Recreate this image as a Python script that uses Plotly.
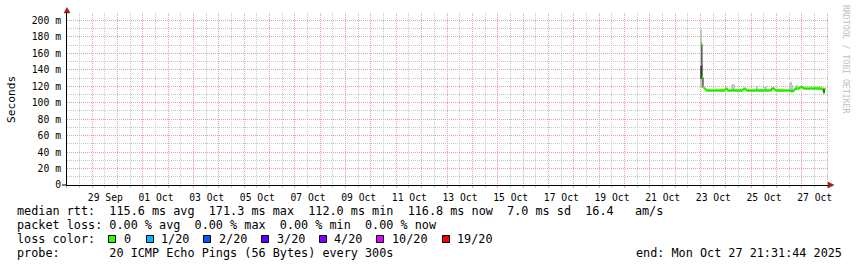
import plotly.graph_objects as go
import pandas as pd

# ---------------- data ----------------
sample_start = "2025-10-23 00:30"          # first consolidated (1 h) median sample
median_rtt_ms = [
    171.3, 131.0, 119.0, 117.6, 116.2, 115.3, 114.8, 114.9, 115.0, 114.9,
    114.8, 115.0, 114.9, 114.9, 115.1, 114.8, 114.9, 115.0, 114.9, 114.8,
    114.9, 115.0, 115.2, 116.8, 117.0, 115.3, 114.9, 114.8, 114.9, 115.0,
    115.1, 114.9, 114.8, 114.9, 115.0, 114.7, 114.9, 114.9, 115.0, 115.1,
    116.6, 116.9, 116.5, 115.2, 114.9, 114.8, 114.9, 115.0, 114.9, 114.8,
    114.9, 115.0, 114.9, 115.1, 114.9, 114.8, 114.9, 115.0, 114.9, 114.9,
    115.0, 115.1, 114.9, 114.8, 114.9, 115.0, 115.3, 117.2, 117.4, 116.9,
    115.4, 114.9, 114.8, 114.9, 115.0, 114.9, 114.8, 114.9, 115.0, 114.9,
    114.9, 115.0, 114.8, 114.9, 114.6, 114.2, 114.4, 114.3, 115.6, 117.0,
    117.3, 117.1, 117.5, 118.0, 118.8, 119.0, 118.6, 117.6, 117.3, 117.2,
    117.4, 117.3, 117.0, 117.2, 117.5, 117.3, 117.1, 117.6, 117.4, 117.2,
    117.3, 117.0, 117.2, 117.4, 117.1, 116.9, 112.0, 116.8,
]

# smoke (ping spread) where it shows beside the median line
smoke_light_times = ["2025-10-23 00:30", "2025-10-23 01:30", "2025-10-24 05:30",
                     "2025-10-24 06:30", "2025-10-24 07:30", "2025-10-25 05:30",
                     "2025-10-25 12:30", "2025-10-25 13:30", "2025-10-26 12:30",
                     "2025-10-26 13:30", "2025-10-26 14:30", "2025-10-26 18:30",
                     "2025-10-26 19:30"]
smoke_light_lo = [119, 118, 114, 114, 114, 114, 114, 114, 113, 113, 113, 116, 116]
smoke_light_hi = [190, 146, 121.5, 123, 122, 120, 119.5, 120, 124, 125.6, 122, 120.5, 121]
smoke_dark_times = ["2025-10-23 00:30"]
smoke_dark_lo = [129]
smoke_dark_hi = [145]

day_labels = ["", "29 Sep", "", "01 Oct", "", "03 Oct", "", "05 Oct", "", "07 Oct",
              "", "09 Oct", "", "11 Oct", "", "13 Oct", "", "15 Oct", "", "17 Oct",
              "", "19 Oct", "", "21 Oct", "", "23 Oct", "", "25 Oct", "", "27 Oct", ""]
y_tick_ms = [0, 20, 40, 60, 80, 100, 120, 140, 160, 180, 200]
y_tick_text = ["0", "20 m", "40 m", "60 m", "80 m", "100 m", "120 m",
               "140 m", "160 m", "180 m", "200 m"]

legend_rtt = "median rtt:  115.6 ms avg  171.3 ms max  112.0 ms min  116.8 ms now  7.0 ms sd  16.4   am/s"
legend_loss = "packet loss: 0.00 % avg  0.00 % max  0.00 % min  0.00 % now"
legend_color_title = "loss color:"
loss_labels = ["0", "1/20", "2/20", "3/20", "4/20", "10/20", "19/20"]
loss_colors = ["#26ff00", "#00b8ff", "#0059ff", "#5e00ff", "#7e00ff", "#dd00ff", "#ff0000"]
legend_probe = "probe:       20 ICMP Echo Pings (56 Bytes) every 300s"
legend_end = "end: Mon Oct 27 21:31:44 2025"
watermark = "RRDTOOL / TOBI OETIKER"
y_title = "Seconds"

# ---------------- layout geometry ----------------
W, H = 857, 267
L, R, T, B = 67, 28, 13, 82
PW, PH = W - L - R, H - T - B

def px(x):
    return (x - L) / PW

def py(y):
    return (T + PH - y) / PH

FONT = "DejaVu Sans Mono"
MAJOR = "#eba0a0"
MINOR = "#c8c8c8"
ARROW = "#961e1e"
ms = 1 / 1000.0

times = pd.date_range(sample_start, periods=len(median_rtt_ms), freq="h")
step = pd.Timedelta(hours=1)
fmt = "%Y-%m-%d %H:%M:%S"

fig = go.Figure()

fig.add_trace(go.Bar(
    x=smoke_light_times,
    y=[(h - l) * ms for l, h in zip(smoke_light_lo, smoke_light_hi)],
    base=[l * ms for l in smoke_light_lo],
    width=3600000, offset=0,
    marker=dict(color="#c4c4c4", line=dict(width=0)), hoverinfo="skip"))
fig.add_trace(go.Bar(
    x=smoke_dark_times,
    y=[(h - l) * ms for l, h in zip(smoke_dark_lo, smoke_dark_hi)],
    base=[l * ms for l in smoke_dark_lo],
    width=3600000, offset=0,
    marker=dict(color="#606060", line=dict(width=0)), hoverinfo="skip"))

# thin dark median line (visible at jumps)
bx = [t.strftime(fmt) for t in times] + [(times[-1] + step).strftime(fmt)]
by = [v * ms for v in median_rtt_ms] + [median_rtt_ms[-1] * ms]
fig.add_trace(go.Scatter(x=bx, y=by, mode="lines",
                         line=dict(color="#1a1a1a", width=1, shape="hv"),
                         hoverinfo="skip"))

# loss-coloured median bars (all 0 loss -> green)
gx, gy = [], []
for t, v in zip(times, median_rtt_ms):
    gx += [t.strftime(fmt), (t + step).strftime(fmt), None]
    gy += [v * ms, v * ms, None]
fig.add_trace(go.Scatter(x=gx, y=gy, mode="lines", connectgaps=False,
                         line=dict(color=loss_colors[0], width=3),
                         hoverinfo="skip"))

day_ticks = [d.strftime(fmt) for d in pd.date_range("2025-09-28", "2025-10-28", freq="D")]

fig.update_layout(
    width=W, height=H, autosize=False,
    margin=dict(l=L, r=R, t=T, b=B, pad=0),
    paper_bgcolor="white", plot_bgcolor="white",
    showlegend=False, barmode="overlay", bargap=0,
    font=dict(family=FONT, size=10, color="black"),
    xaxis=dict(
        type="date", range=["2025-09-28 00:02", "2025-10-28 01:52"],
        tickmode="array", tickvals=day_ticks, ticktext=day_labels,
        ticklabelshift=13, ticklabelstandoff=1,
        tickfont=dict(family=FONT, size=9.7, color="black"),
        showgrid=True, gridcolor=MAJOR, griddash="1px,1px", gridwidth=1,
        ticks="outside", ticklen=2, tickcolor=MAJOR,
        minor=dict(tickmode="linear", tick0="2025-09-28 12:00", dtick=43200000,
                   showgrid=True, gridcolor=MINOR, griddash="1px,1px",
                   ticks="outside", ticklen=2, tickcolor=MINOR),
        showline=True, linecolor="black", linewidth=1,
        zeroline=False, fixedrange=True),
    yaxis=dict(
        range=[0, PH / 0.8225 * ms],
        tickmode="array", tickvals=[v * ms for v in y_tick_ms], ticktext=y_tick_text,
        tickfont=dict(family=FONT, size=9.75, color="black"),
        ticks="", ticklabelstandoff=3,
        showgrid=True, gridcolor=MAJOR, griddash="1px,1px", gridwidth=1,
        minor=dict(tickmode="linear", tick0=0, dtick=10 * ms,
                   showgrid=True, gridcolor=MINOR, griddash="1px,1px"),
        showline=True, linecolor="black", linewidth=1,
        zeroline=False, fixedrange=True),
)

shapes = [
    dict(type="line", xref="paper", yref="paper", x0=px(62), x1=px(67),
         y0=py(185), y1=py(185), line=dict(color="black", width=1)),
    dict(type="path", xref="paper", yref="paper",
         path=f"M {px(828)},{py(182)} L {px(834)},{py(185)} L {px(828)},{py(188)} Z",
         fillcolor=ARROW, line=dict(color=ARROW, width=0.5)),
    dict(type="path", xref="paper", yref="paper",
         path=f"M {px(64)},{py(13)} L {px(67)},{py(7.5)} L {px(70)},{py(13)} Z",
         fillcolor=ARROW, line=dict(color=ARROW, width=0.5)),
]

NB = "\u00a0"
LEG = dict(family=FONT, size=11.8, color="black")

def ann(text, x, y, anchor="left", **kw):
    return dict(text=text.replace(" ", NB), x=px(x), y=py(y), xref="paper", yref="paper",
                xanchor=anchor, yanchor="middle", showarrow=False, font=LEG,
                borderpad=0, **kw)

annotations = [
    ann(legend_rtt, 15.5, 211),
    ann(legend_loss, 15.5, 224.8),
    ann(legend_color_title, 15.5, 238.8),
    ann(legend_probe, 15.5, 252.6),
    ann(legend_end, 843.5, 252.6, anchor="right"),
    dict(text=y_title, x=px(11.5), y=py(99.5), xref="paper", yref="paper",
         xanchor="center", yanchor="middle", textangle=-90, showarrow=False,
         font=dict(family=FONT, size=11.2, color="black")),
    dict(text=watermark.replace(" ", NB), x=px(846), y=py(59), xref="paper", yref="paper",
         xanchor="center", yanchor="middle", textangle=90, showarrow=False,
         font=dict(family=FONT, size=8.2, color="#c0c0c0")),
]

box_left = [108.5, 146.5, 203.5, 261.5, 319.5, 376.5, 442.5]
label_left = [122.5, 159.5, 217.5, 275.5, 332.5, 391, 456]
for bl, ll, lab, col in zip(box_left, label_left, loss_labels, loss_colors):
    shapes.append(dict(type="rect", xref="paper", yref="paper",
                       x0=px(bl), x1=px(bl + 7), y0=py(235.5), y1=py(242.5),
                       fillcolor=col, line=dict(color="black", width=1)))
    annotations.append(ann(lab, ll, 238.8))

fig.update_layout(shapes=shapes, annotations=annotations)

fig.write_html("out.html")
